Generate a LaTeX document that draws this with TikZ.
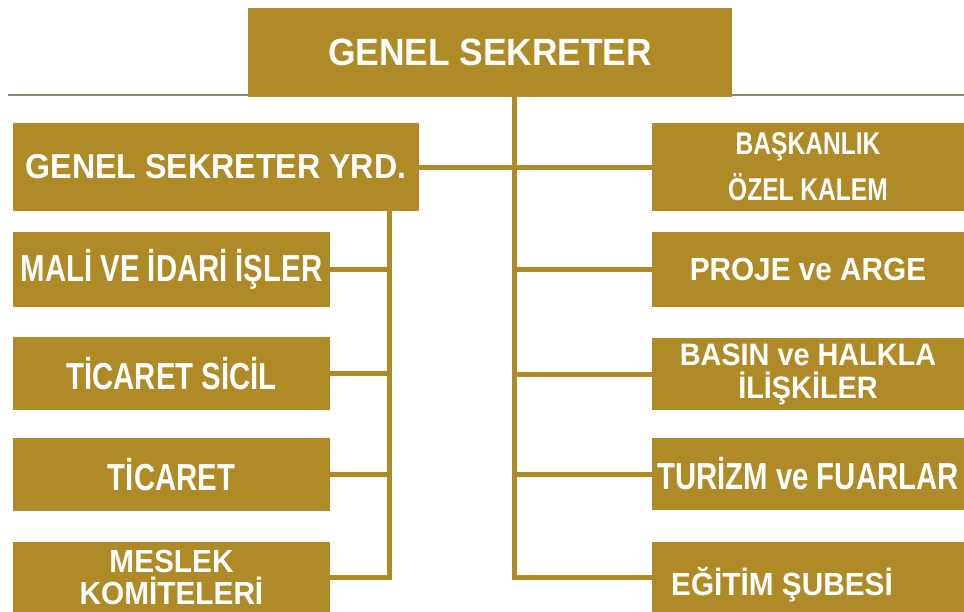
\documentclass[tikz,border=0pt]{standalone}
\usepackage{fontspec}
\setmainfont{Liberation Sans}
\newfontfamily\genis[FakeStretch=0.93]{Liberation Sans}
\newfontfamily\dar[FakeStretch=0.78]{Liberation Sans}
\newcommand\boy[2]{\fontsize{#1}{#2}\selectfont}
\definecolor{altin}{RGB}{175,139,40}
\definecolor{cizgi}{RGB}{140,140,118}

\begin{document}
\begin{tikzpicture}[x=1pt,y=-1pt]
  \tikzstyle{kutu}=[rectangle,fill=altin,text=white,inner sep=0pt,align=center,
                    font=\dar\bfseries\boy{37.6}{33}]
  \tikzstyle{genkutu}=[kutu,font=\genis\bfseries\boy{32}{32}]
  \tikzstyle{sol}=[kutu,minimum width=317pt]
  \tikzstyle{sag}=[kutu,minimum width=312pt]
  \tikzstyle{hat}=[draw=altin,line width=5pt]

  \clip (0,0) rectangle (964,611);
  \fill[white] (0,0) rectangle (964,611);

  \coordinate (ucA) at (8,95);
  \coordinate (ucB) at (964,95);
  \draw[cizgi,line width=1.3pt] (ucA) -- (ucB);

  \node[kutu,minimum width=484pt,minimum height=89pt,font=\genis\bfseries\boy{38}{40}]
        (ust) at (490,52.5) {GENEL SEKRETER};
  \node[kutu,minimum width=406pt,minimum height=88pt,font=\genis\bfseries\boy{34.6}{38}]
        (gsy) at (216,167) {GENEL SEKRETER YRD.};

  \node[sol,minimum height=75pt] (mali)    at (171.5,269.5) {MALİ VE İDARİ İŞLER};
  \node[sol,minimum height=73pt] (sicil)   at (171.5,373.5) {TİCARET SİCİL};
  \node[sol,minimum height=73pt] (ticaret) at (171.5,474.5) {TİCARET};
  \node[sol,genkutu,minimum height=70pt] (meslek) at (171.5,577) {MESLEK\\KOMİTELERİ};

  \node[sag,minimum height=88pt,font=\dar\bfseries\boy{31.5}{46}]
        (baskanlik) at (808,167) {BAŞKANLIK\\ÖZEL KALEM};
  \node[sag,genkutu,minimum height=75pt] (proje) at (808,269.5) {PROJE ve ARGE};
  \node[sag,genkutu,minimum height=72pt,font=\genis\bfseries\boy{31}{33}]
        (basin)   at (808,374)   {BASIN ve HALKLA\\İLİŞKİLER};
  \node[sag,minimum height=72pt] (turizm)  at (808,474)   {TURİZM ve FUARLAR};
  \node[sag,genkutu,minimum height=70pt] (egitim) at (808,577)
        {\hspace*{-52pt}\raisebox{-8pt}[\height][\depth]{EĞİTİM ŞUBESİ}};

  \coordinate (orta)   at (514,97);
  \coordinate (solhat) at (389,211);

  % ana hatlar
  \draw[hat] (orta) |- (egitim.west);
  \draw[hat] (solhat) |- (meslek.east);
  \draw[hat] (gsy.east) -- (baskanlik.west);
  \foreach \n in {mali,sicil,ticaret}
    \draw[hat] (\n.east) -- (\n.east -| solhat);
  \foreach \n in {proje,basin,turizm}
    \draw[hat] (\n.west -| orta) -- (\n.west);
\end{tikzpicture}
\end{document}
